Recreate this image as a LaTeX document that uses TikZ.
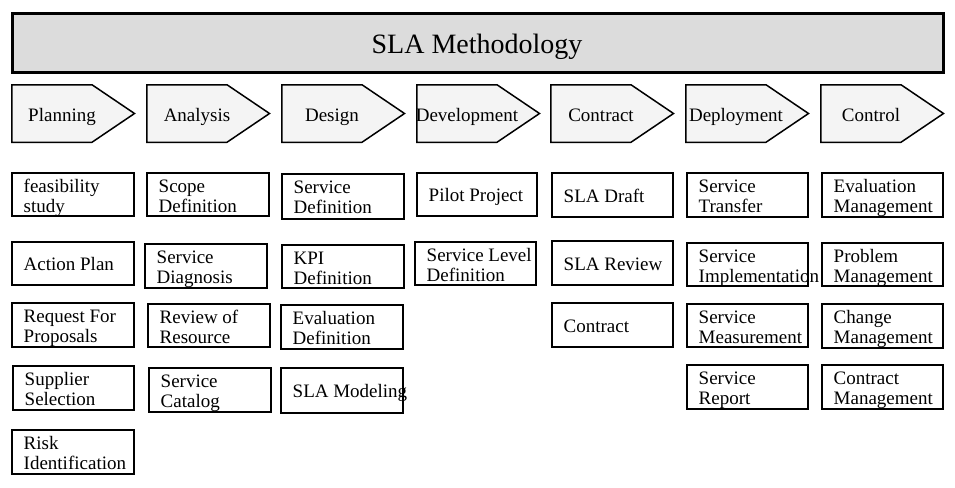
\documentclass[tikz,border=0pt]{standalone}
\usepackage{fontspec}
\setmainfont{Liberation Serif}
\definecolor{titlegray}{HTML}{DCDCDC}
\definecolor{phasegray}{HTML}{F4F4F4}
\tikzset{
  titlest/.style={draw=black, line width=3pt, fill=titlegray},
  phasest/.style={draw=black, line width=1.5pt, fill=phasegray, line join=miter},
  phtx/.style={anchor=base, inner sep=0pt, font=\fontsize{19}{20}\selectfont},
  slabx/.style={draw=black, line width=1.8pt, fill=white, inner sep=0pt},
  slatx/.style={align=left, inner sep=0pt, font=\fontsize{19}{20}\selectfont},
}
% two-line box: first baseline at top+20
\newcommand\slabox[6]{%
  \node[slabx, minimum width={#4-#2-1.8}, minimum height={#5-#3-1.8}] (#1) at ({(#2+#4)/2},{(#3+#5)/2}) {};
  \node[slatx, anchor=north west] (#1t) at ([xshift=12.5pt,yshift=-2.5pt]#1.north west) {\rule{0pt}{17.5pt}#6};}
% one-line box: text centred vertically
\newcommand\slaboxi[6]{%
  \node[slabx, minimum width={#4-#2-1.8}, minimum height={#5-#3-1.8}] (#1) at ({(#2+#4)/2},{(#3+#5)/2}) {};
  \node[slatx, anchor=base west] (#1t) at ([xshift=12.5pt,yshift=-7pt]#1.west) {#6};}
\newcommand\slaphase[3]{%
  \draw[phasest] (#2+0.75,84.75) -- ++(80.25,0) -- ++(42.5,28.75) -- ++(-42.5,28.75) -- ++(-80.25,0) -- cycle;
  \node[phtx] (#1) at (#2+51,121.5) {#3};}
\begin{document}
\begin{tikzpicture}[x=1pt,y=-1pt]
\useasboundingbox (0,0) rectangle (955,487);
% title
\draw[titlest] (12.5,13.5) rectangle (943.5,72.5);
\node[anchor=base, inner sep=0pt, font=\fontsize{28}{30}\selectfont] (title) at (477,54) {SLA Methodology};
% phases
\slaphase{plan}{11}{Planning}
\slaphase{anal}{146}{Analysis}
\slaphase{desi}{281}{Design}
\slaphase{deve}{416}{Development}
\slaphase{cont}{550}{Contract}
\slaphase{depl}{685}{Deployment}
\slaphase{ctrl}{820}{Control}
% Planning column
\slabox{a1}{11}{172}{135}{217}{feasibility\\study}
\slaboxi{a2}{11}{241}{135}{286}{Action Plan}
\slabox{a3}{11}{302}{135}{348}{Request For\\Proposals}
\slabox{a4}{12}{365}{135}{411}{Supplier\\Selection}
\slabox{a5}{11}{429}{135}{475}{Risk\\Identification}
% Analysis column
\slabox{b1}{146}{172}{270}{217}{Scope\\Definition}
\slabox{b2}{144}{243}{268}{289}{Service\\Diagnosis}
\slabox{b3}{147}{303}{271}{348}{Review of\\Resource}
\slabox{b4}{148}{367}{272}{413}{Service\\Catalog}
% Design column
\slabox{c1}{281}{173}{405}{220}{Service\\Definition}
\slabox{c2}{281}{244}{405}{289}{KPI\\Definition}
\slabox{c3}{280}{304}{404}{350}{Evaluation\\Definition}
\slaboxi{c4}{280}{367}{404}{414}{SLA Modeling}
% Development column
\slaboxi{d1}{416}{172}{538}{217}{Pilot Project}
\slabox{d2}{414}{241}{537}{286}{Service Level\\Definition}
% Contract column
\slaboxi{e1}{551}{172}{674}{218}{SLA Draft}
\slaboxi{e2}{551}{240}{674}{286}{SLA Review}
\slaboxi{e3}{551}{302}{674}{348}{Contract}
% Deployment column
\slabox{f1}{686}{172}{809}{218}{Service\\Transfer}
\slabox{f2}{686}{242}{809}{287}{Service\\Implementation}
\slabox{f3}{686}{303}{809}{348}{Service\\Measurement}
\slabox{f4}{686}{364}{809}{410}{Service\\Report}
% Control column
\slabox{g1}{821}{172}{944}{218}{Evaluation\\Management}
\slabox{g2}{821}{242}{944}{287}{Problem\\Management}
\slabox{g3}{821}{303}{944}{349}{Change\\Management}
\slabox{g4}{821}{364}{944}{410}{Contract\\Management}
\end{tikzpicture}
\end{document}
